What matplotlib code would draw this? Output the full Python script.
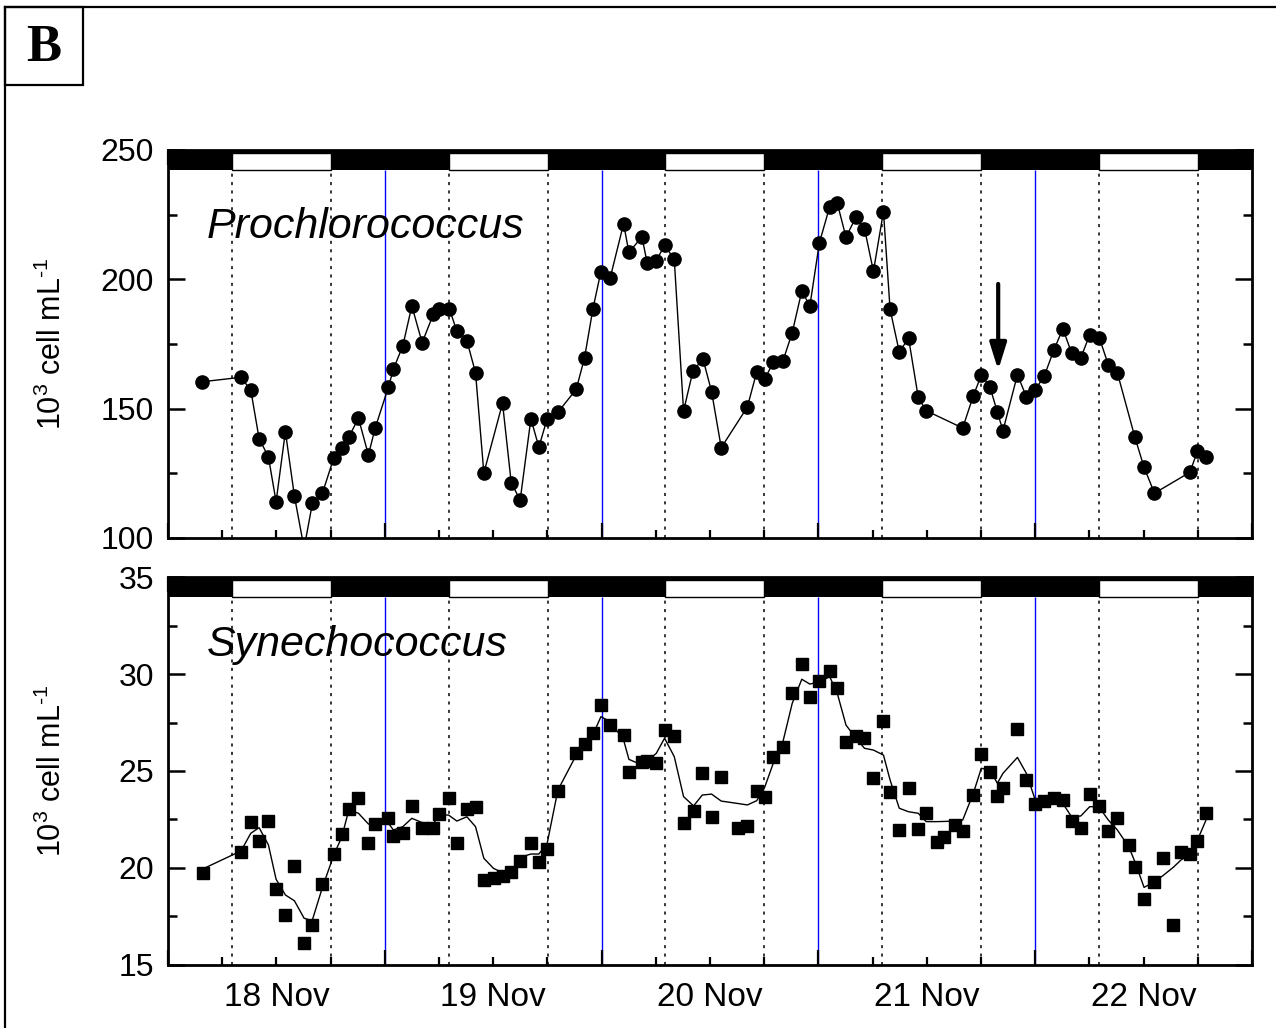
import matplotlib
matplotlib.use('Agg')
import matplotlib.pyplot as plt
import matplotlib.transforms as mtransforms
from matplotlib.patches import Rectangle
from matplotlib.lines import Line2D
from matplotlib.ticker import FixedLocator, FixedFormatter

plt.rcParams['font.family'] = ['Liberation Sans', 'DejaVu Sans']
plt.rcParams['mathtext.fontset'] = 'custom'
plt.rcParams['mathtext.rm'] = 'Liberation Sans'
plt.rcParams['mathtext.default'] = 'regular'

# hours since 18 Nov 00:00
pro_hours = [3.80, 8.05, 9.16, 10.08, 11.11, 11.96, 12.99, 13.99, 15.06, 15.98,
             17.09, 18.35, 19.24, 20.01, 21.08, 22.18, 22.93, 24.40, 24.95, 25.99,
             26.99, 28.13, 29.38, 30.05, 31.15, 31.97, 33.08, 34.04, 34.96, 37.03,
             37.99, 38.98, 40.17, 41.05, 41.97, 43.16, 45.19, 46.11, 47.03, 47.92,
             48.95, 50.43, 51.02, 52.46, 53.05, 54.05, 54.97, 56.04, 57.07, 58.11,
             59.22, 60.17, 61.24, 64.13, 65.17, 66.05, 67.00, 68.07, 69.10, 70.16,
             71.05, 72.11, 73.25, 74.09, 75.05, 76.15, 77.10, 78.09, 79.20, 79.93,
             80.95, 81.98, 83.05, 83.93, 87.97, 89.15, 90.03, 90.98, 91.81, 92.43,
             94.03, 95.02, 95.98, 97.00, 98.07, 99.06, 100.02, 101.04, 102.03, 103.10,
             104.10, 105.09, 107.03, 108.05, 109.20, 113.13, 113.96, 114.88]
pro_cells = [160.4, 162.1, 157.2, 138.4, 131.4, 114.0, 141.1, 116.2, 96.0, 113.4,
             117.3, 131.0, 134.9, 139.0, 146.3, 132.1, 142.5, 158.4, 165.3, 174.3,
             189.7, 175.5, 186.6, 188.4, 188.5, 180.0, 176.3, 163.9, 125.1, 152.1,
             121.4, 114.6, 146.1, 135.1, 146.1, 148.6, 157.5, 169.7, 188.5, 203.0,
             200.6, 221.5, 210.4, 216.4, 206.2, 207.2, 213.2, 207.7, 149.1, 164.6,
             169.2, 156.6, 134.9, 150.6, 164.2, 161.4, 167.9, 168.4, 179.4, 195.5,
             189.7, 214.2, 228.1, 229.4, 216.3, 224.0, 219.6, 203.1, 226.2, 188.5,
             171.9, 177.2, 154.4, 149.2, 142.5, 155.0, 162.9, 158.5, 148.6, 141.5,
             163.1, 154.6, 157.2, 162.6, 172.7, 180.9, 171.6, 169.6, 178.5, 177.4,
             166.8, 163.9, 139.0, 127.3, 117.3, 125.4, 133.6, 131.2]

syn_hours = [3.84, 8.08, 9.16, 10.08, 11.11, 11.96, 12.99, 13.99, 15.06, 15.95,
             17.09, 18.35, 19.24, 20.01, 21.08, 22.18, 22.93, 24.40, 24.95, 25.99,
             26.99, 28.13, 29.38, 30.05, 31.05, 31.97, 33.08, 34.04, 34.96, 36.03,
             37.03, 37.99, 38.98, 40.17, 41.05, 41.97, 43.16, 45.19, 46.11, 47.03,
             47.92, 48.95, 50.43, 51.02, 52.46, 53.05, 54.05, 54.97, 56.04, 57.07,
             58.18, 59.14, 60.17, 61.24, 63.15, 64.13, 65.17, 66.05, 67.00, 68.07,
             69.10, 70.16, 71.05, 72.11, 73.25, 74.09, 75.05, 76.15, 77.10, 78.09,
             79.20, 79.93, 80.95, 81.98, 83.05, 83.93, 85.12, 85.95, 87.17, 87.97,
             89.15, 90.03, 90.98, 91.81, 92.43, 94.03, 95.02, 95.98, 97.00, 98.07,
             99.06, 100.02, 101.04, 102.03, 103.03, 104.10, 105.09, 106.35, 107.03, 108.05,
             109.20, 110.12, 111.30, 112.13, 113.13, 113.96, 114.88]
syn_cells = [19.76, 20.84, 22.37, 21.39, 22.44, 18.90, 17.56, 20.10, 16.12, 17.05,
             19.18, 20.72, 21.73, 23.06, 23.62, 21.30, 22.27, 22.56, 21.66, 21.82,
             23.21, 22.05, 22.05, 22.78, 23.62, 21.27, 23.04, 23.13, 19.38, 19.50,
             19.59, 19.81, 20.36, 21.27, 20.33, 21.00, 23.95, 25.94, 26.39, 26.97,
             28.42, 27.36, 26.86, 24.95, 25.48, 25.52, 25.40, 27.11, 26.82, 22.34,
             22.94, 24.88, 22.64, 24.67, 22.05, 22.18, 23.97, 23.68, 25.74, 26.25,
             29.04, 30.52, 28.80, 29.64, 30.15, 29.30, 26.48, 26.80, 26.72, 24.62,
             27.58, 23.93, 21.96, 24.10, 21.99, 22.82, 21.32, 21.58, 22.22, 21.91,
             23.76, 25.86, 24.93, 23.73, 24.14, 27.15, 24.54, 23.28, 23.47, 23.62,
             23.50, 22.44, 22.05, 23.81, 23.20, 21.91, 22.59, 21.19, 20.04, 18.39,
             19.26, 20.53, 17.06, 20.81, 20.71, 21.39, 22.85]
# smoothed curve drawn through the Synechococcus points
syn_smooth = [19.95, 20.88, 21.79, 22.08, 21.19, 19.42, 18.61, 18.31, 17.41, 17.28,
              19.00, 20.67, 21.61, 22.99, 22.82, 22.27, 22.22, 22.30, 21.96, 22.13,
              22.56, 22.34, 22.30, 22.73, 22.73, 22.42, 22.64, 22.13, 20.50, 19.98,
              19.76, 19.81, 20.55, 20.72, 20.72, 21.27, 24.02, 25.82, 26.34, 26.86,
              27.80, 27.54, 26.60, 25.60, 25.31, 25.52, 25.91, 26.69, 25.74, 23.68,
              23.20, 23.76, 23.81, 23.45, 23.32, 23.25, 23.47, 24.16, 25.40, 26.51,
              28.49, 29.73, 29.48, 29.60, 29.86, 29.00, 27.37, 26.69, 26.17, 26.08,
              25.82, 24.54, 23.08, 22.90, 22.82, 22.39, 22.39, 22.40, 22.42, 22.47,
              23.85, 25.14, 25.05, 24.37, 24.88, 25.70, 24.88, 23.54, 23.50, 23.59,
              23.33, 22.64, 22.68, 23.16, 23.16, 22.47, 21.96, 21.10, 20.33, 19.00,
              19.29, 19.60, 20.04, 20.41, 20.72, 21.44, 22.44]

day_labels = ['18 Nov', '19 Nov', '20 Nov', '21 Nov', '22 Nov']
light_on = [7.05, 31.05, 55.05, 79.05, 103.05]
light_off = [18.03, 42.03, 66.03, 90.03, 114.03]
midnights = [24, 48, 72, 96]

fig = plt.figure(figsize=(12.76, 10.28), dpi=100)

# outer frame and panel letter
fig.add_artist(Line2D([0.0039, 0.0039], [0.0, 0.9932], color='black', lw=1.6))
fig.add_artist(Line2D([0.0039, 1.0], [0.9932, 0.9932], color='black', lw=1.6))
fig.add_artist(Rectangle((0.0039, 0.9173), 0.0611, 0.0759, transform=fig.transFigure,
                         fill=False, edgecolor='black', lw=1.6))
fig.text(0.0345, 0.9533, 'B', family='Liberation Serif', weight='bold', fontsize=38,
         ha='center', va='center')

ax1 = fig.add_axes([0.1317, 0.4767, 0.8495, 0.3774])
ax2 = fig.add_axes([0.1317, 0.0613, 0.8495, 0.3774])

bar_bottom = 0.9485
for ax in (ax1, ax2):
    ax.set_xlim(0, 120)
    trans = mtransforms.blended_transform_factory(ax.transData, ax.transAxes)
    ax.add_patch(Rectangle((0, bar_bottom), 120, 1 - bar_bottom, transform=trans,
                           facecolor='black', edgecolor='black', lw=0, zorder=3))
    for t0, t1 in zip(light_on, light_off):
        ax.add_patch(Rectangle((t0, bar_bottom), t1 - t0, 0.993 - bar_bottom, transform=trans,
                               facecolor='white', edgecolor='black', lw=1, zorder=3))
        ax.vlines([t0, t1], 0, bar_bottom, transform=trans, colors='black',
                  linestyles=(0, (2, 3.5)), lw=1.1, zorder=1)
    ax.vlines(midnights, 0, bar_bottom, transform=trans, colors='blue', lw=1.0, zorder=1)

    ax.xaxis.set_major_locator(FixedLocator([0, 24, 48, 72, 96, 120]))
    minor = [d * 24 + h for d in range(5) for h in (6, 12, 18)]
    ax.xaxis.set_minor_locator(FixedLocator(minor))
    ax.xaxis.set_major_formatter(FixedFormatter([''] * 6))
    ax.xaxis.set_minor_formatter(FixedFormatter(['' if h != 12 else day_labels[d]
                                                 for d in range(5) for h in (6, 12, 18)]))
    ax.tick_params(axis='x', which='major', direction='in', length=11, width=1.6,
                   top=True, bottom=True)
    ax.tick_params(axis='x', which='minor', direction='in', length=5.5, width=1.6,
                   top=True, bottom=True, labelsize=24, pad=12)
    ax.tick_params(axis='y', which='major', direction='in', length=12, width=1.8,
                   left=True, right=True, labelsize=23, pad=10)
    ax.tick_params(axis='y', which='minor', direction='in', length=6.5, width=1.8,
                   left=True, right=True)
    for sp in ax.spines.values():
        sp.set_linewidth(2.0)
    ax.set_ylabel(r'10$^{3}$ cell mL$^{\text{-}1}$', fontsize=22)
    ax.yaxis.set_label_coords(-0.092, 0.5)

ax1.tick_params(axis='x', which='both', labelbottom=False)

# Prochlorococcus
ax1.plot(pro_hours, pro_cells, '-o', color='black', lw=1.0, markersize=9.5, zorder=4)
ax1.set_ylim(100, 250)
ax1.yaxis.set_major_locator(FixedLocator([100, 150, 200, 250]))
ax1.yaxis.set_minor_locator(FixedLocator([125, 175, 225]))
ax1.text(0.036, 0.773, 'Prochlorococcus', transform=ax1.transAxes, fontsize=31,
         style='italic', va='baseline', ha='left')
ax1.annotate('', xy=(91.9, 164.9), xytext=(91.9, 198.2),
             arrowprops=dict(arrowstyle='-|>,head_length=0.8,head_width=0.25',
                             mutation_scale=20, lw=3.0, color='black',
                             shrinkA=0, shrinkB=0), zorder=5)

# Synechococcus
ax2.plot(syn_hours, syn_smooth, '-', color='black', lw=1.0, zorder=4)
ax2.plot(syn_hours, syn_cells, 's', color='black', markersize=8.6, zorder=5)
ax2.set_ylim(15, 35)
ax2.yaxis.set_major_locator(FixedLocator([15, 20, 25, 30, 35]))
ax2.yaxis.set_minor_locator(FixedLocator([17.5, 22.5, 27.5, 32.5]))
ax2.text(0.036, 0.796, 'Synechococcus', transform=ax2.transAxes, fontsize=31,
         style='italic', va='baseline', ha='left')

fig.savefig('out.png', dpi=100)
